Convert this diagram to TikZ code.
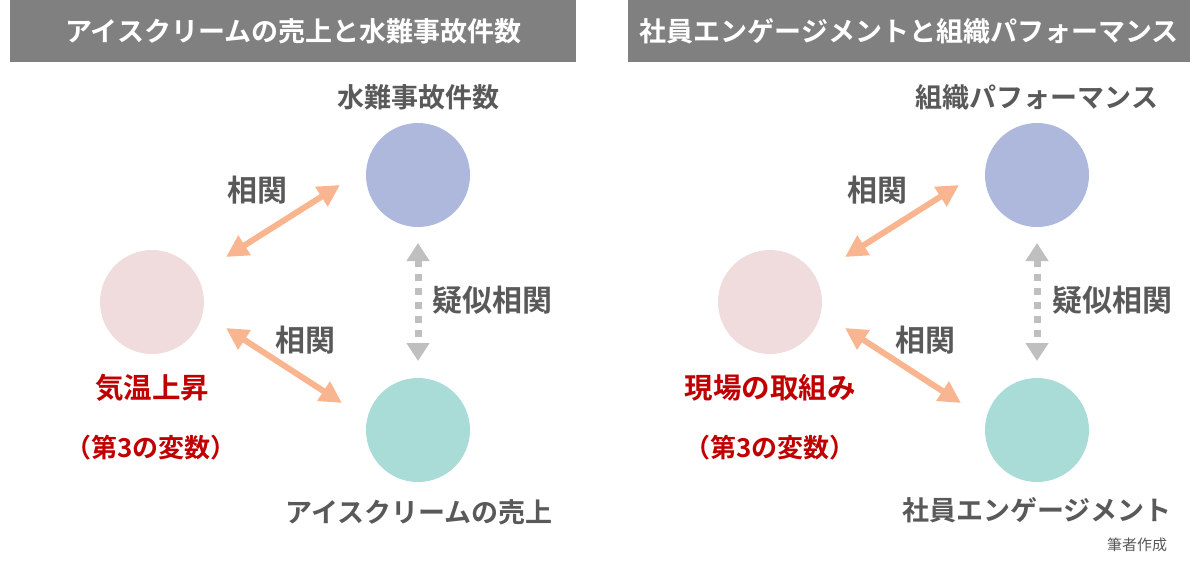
\documentclass[tikz,border=0pt]{standalone}
\usepackage{fontspec}
\setmainfont{Noto Sans CJK JP}
\newfontfamily\jpb{Noto Sans CJK JP}[BoldFont={* Bold}]
\usetikzlibrary{arrows.meta}
\definecolor{hdr}{HTML}{808080}
\definecolor{txt}{HTML}{595959}
\definecolor{redt}{HTML}{C00000}
\definecolor{cblue}{HTML}{ADB8DC}
\definecolor{cteal}{HTML}{A9DCD6}
\definecolor{cpink}{HTML}{F1DCDD}
\definecolor{peach}{HTML}{F8B58F}
\definecolor{dgray}{HTML}{BFBFBF}
\tikzset{
  hdrbox/.style={fill=hdr, draw=none, minimum width=566pt, minimum height=62pt, inner sep=0pt,
    text=white, font=\jpb\bfseries\fontsize{27}{30}\selectfont},
  circ/.style={circle, draw=none, minimum size=104pt, inner sep=0pt},
  lbl/.style={text=txt, font=\jpb\bfseries\fontsize{27}{30}\selectfont, inner sep=0pt},
  rlbl/.style={text=txt, font=\jpb\bfseries\fontsize{30}{34}\selectfont, inner sep=0pt},
  redlbl/.style={text=redt, font=\jpb\bfseries\fontsize{28.5}{32}\selectfont, inner sep=0pt},
  redsub/.style={text=redt, font=\jpb\bfseries\fontsize{26}{30}\selectfont, inner sep=0pt},
  corr/.style={draw=peach, line width=6pt, {Triangle[length=22pt,width=22pt]}-{Triangle[length=22pt,width=22pt]}},
  pseudo/.style={draw=dgray, line width=7pt, dash pattern=on 7pt off 7pt,
    {Triangle[length=18pt,width=22pt]}-{Triangle[length=18pt,width=22pt]}},
}
\begin{document}
\begin{tikzpicture}[x=1pt,y=-1pt]
\useasboundingbox (0,0) rectangle (1200,563);
% headers
\node[hdrbox, anchor=north west] (h1) at (10,0) {アイスクリームの売上と水難事故件数};
\node[hdrbox, anchor=north west, minimum width=562pt] (h2) at (628,0) {社員エンゲージメントと組織パフォーマンス};
% left panel
\node[circ, fill=cblue] (la) at (418,175) {};
\node[circ, fill=cteal] (lb) at (418,430) {};
\node[circ, fill=cpink] (lc) at (152,302) {};
\node[lbl] (lat) at (418,97) {水難事故件数};
\node[lbl] (lbt) at (419,512) {アイスクリームの売上};
\node[redlbl] (lct) at (152,388) {気温上昇};
\node[redsub] (lct2) at (151,448) {（第3の変数）};
\node[rlbl] (lr1) at (257,190) {相関};
\node[rlbl] (lr2) at (305,340) {相関};
\node[rlbl] (lr3) at (492,300) {疑似相関};
\coordinate (l1s) at (226,257);
\coordinate (l1e) at (340,185);
\coordinate (l2s) at (226,328);
\coordinate (l2e) at (342,403);
\coordinate (l3s) at (418,243);
\coordinate (l3e) at (418,361);
\draw[corr] (l1s) -- (l1e);
\draw[corr] (l2s) -- (l2e);
\draw[pseudo] (l3s) -- (l3e);
% right panel
\node[circ, fill=cblue] (ra) at (1037,175) {};
\node[circ, fill=cteal] (rb) at (1037,430) {};
\node[circ, fill=cpink] (rc) at (770,302) {};
\node[lbl] (rat) at (1037,97) {組織パフォーマンス};
\node[lbl] (rbt) at (1037,510) {社員エンゲージメント};
\node[redlbl] (rct) at (770,388) {現場の取組み};
\node[redsub] (rct2) at (770,448) {（第3の変数）};
\node[rlbl] (rr1) at (877,190) {相関};
\node[rlbl] (rr2) at (925,340) {相関};
\node[rlbl] (rr3) at (1112,300) {疑似相関};
\coordinate (r1s) at (845,257);
\coordinate (r1e) at (959,185);
\coordinate (r2s) at (845,328);
\coordinate (r2e) at (961,403);
\coordinate (r3s) at (1037,243);
\coordinate (r3e) at (1037,361);
\draw[corr] (r1s) -- (r1e);
\draw[corr] (r2s) -- (r2e);
\draw[pseudo] (r3s) -- (r3e);
\node[text=txt, font=\fontsize{15}{17}\selectfont, inner sep=0pt] (src) at (1137,545) {筆者作成};
\end{tikzpicture}
\end{document}
